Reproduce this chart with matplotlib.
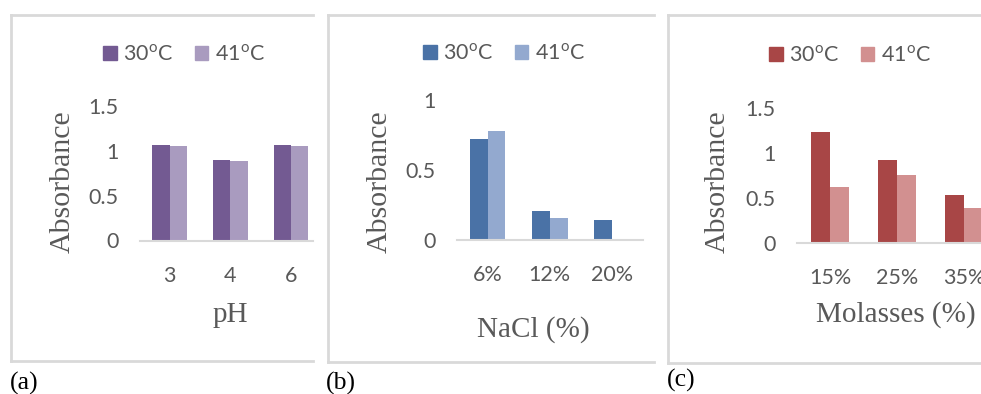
import matplotlib
matplotlib.use("Agg")
import matplotlib.pyplot as plt
from matplotlib.patches import Patch
from matplotlib.lines import Line2D
import numpy as np

# ---- data ----
ph_labels = ["3", "4", "6"]
ph_30 = [1.07, 0.90, 1.07]
ph_41 = [1.05, 0.89, 1.05]

nacl_labels = ["6%", "12%", "20%"]
nacl_30 = [0.72, 0.21, 0.14]
nacl_41 = [0.78, 0.16, 0.01]

mol_labels = ["15%", "25%", "35%"]
mol_30 = [1.23, 0.92, 0.53]
mol_41 = [0.62, 0.76, 0.39]

series_names = ["30$^\\mathregular{o}$C", "41$^\\mathregular{o}$C"]

W, H = 981, 394
fig = plt.figure(figsize=(W / 100, H / 100), dpi=100)

TICK_FONT = "Lato"
SERIF = "Liberation Serif"
GRAY = "#595959"
BORDER = "#d9d9d9"
TICK_SIZE = 15.5


def fx(x):
    return x / W


def fy(y):
    return 1 - y / H


def box(x0, x1, y0, y1, right=True):
    kw = dict(color=BORDER, lw=2, transform=fig.transFigure, clip_on=False)
    fig.add_artist(Line2D([fx(x0), fx(x1)], [fy(y0), fy(y0)], **kw))
    fig.add_artist(Line2D([fx(x0), fx(x1)], [fy(y1), fy(y1)], **kw))
    fig.add_artist(Line2D([fx(x0), fx(x0)], [fy(y0), fy(y1)], **kw))
    if right:
        fig.add_artist(Line2D([fx(x1), fx(x1)], [fy(y0), fy(y1)], **kw))


def panel(left, right, top, bottom, xright, labels, v30, v41, ymax, ystep,
          c30, c41, xlabel, xlabel_x, xlabel_y, ylabel_x, leg_x, leg_y,
          letter, letter_x, letter_y):
    ax = fig.add_axes([fx(left), fy(bottom), fx(right - left), (bottom - top) / H])
    x = np.arange(len(labels))
    w = 1 / 3.5
    ax.bar(x - w / 2, v30, w, color=c30, zorder=2)
    ax.bar(x + w / 2, v41, w, color=c41, zorder=2)
    ax.set_xlim(-0.5, xright)
    ax.set_ylim(0, ymax)
    ax.set_yticks(np.arange(0, ymax + 1e-9, ystep))
    ax.set_yticklabels([f"{v:g}" for v in np.arange(0, ymax + 1e-9, ystep)])
    ax.set_xticks(x)
    ax.set_xticklabels(labels)
    for s in ["top", "right", "left"]:
        ax.spines[s].set_visible(False)
    ax.spines["bottom"].set_color(BORDER)
    ax.spines["bottom"].set_linewidth(1.5)
    ax.tick_params(axis="both", length=0, labelsize=TICK_SIZE, labelcolor=GRAY)
    ax.tick_params(axis="x", pad=18)
    ax.tick_params(axis="y", pad=15)
    for t in ax.get_xticklabels() + ax.get_yticklabels():
        t.set_fontfamily(TICK_FONT)
    ax.patch.set_alpha(0)
    fig.text(fx(xlabel_x), fy(xlabel_y), xlabel, ha="center", va="center",
             fontsize=21, family=SERIF, color=GRAY)
    fig.text(fx(ylabel_x), fy(182), "Absorbance", ha="center", va="center",
             rotation=90, fontsize=21.5, family=SERIF, color=GRAY)
    handles = [Patch(color=c30), Patch(color=c41)]
    fig.legend(handles, series_names, loc="center", ncol=2,
               bbox_to_anchor=(fx(leg_x), fy(leg_y)), bbox_transform=fig.transFigure,
               frameon=False, prop={"family": TICK_FONT, "size": TICK_SIZE},
               labelcolor=GRAY, handlelength=0.62, handleheight=0.62,
               handletextpad=0.3, columnspacing=1.0, borderpad=0)
    fig.text(fx(letter_x), fy(letter_y), letter, ha="left", va="center",
             fontsize=18.5, family=SERIF, color="black")
    return ax


box(11, 313, 15, 361, right=False)
box(327.5, 654, 15, 361.5, right=False)
box(667.5, 990, 15, 363, right=False)

panel(139.5, 313, 106, 240.5, 2.5 - (321.5 - 313) / 61, ph_labels, ph_30, ph_41,
      1.5, 0.5, "#735a92", "#a99bbf", "pH", 230, 315, 63, 184, 54,
      "(a)", 10, 383)
panel(456.5, 643, 100, 240, 2.5, nacl_labels, nacl_30, nacl_41,
      1.0, 0.5, "#4a72a6", "#93a9cf", "NaCl (%)", 533, 330, 380, 504, 53,
      "(b)", 326, 383)
panel(796.7, 981, 108, 243, 2.5 - (997.5 - 981) / 67, mol_labels, mol_30, mol_41,
      1.5, 0.5, "#a84646", "#d29090", "Molasses (%)", 896, 315, 718, 850, 55,
      "(c)", 667, 380)

fig.savefig("out.png", dpi=100)
